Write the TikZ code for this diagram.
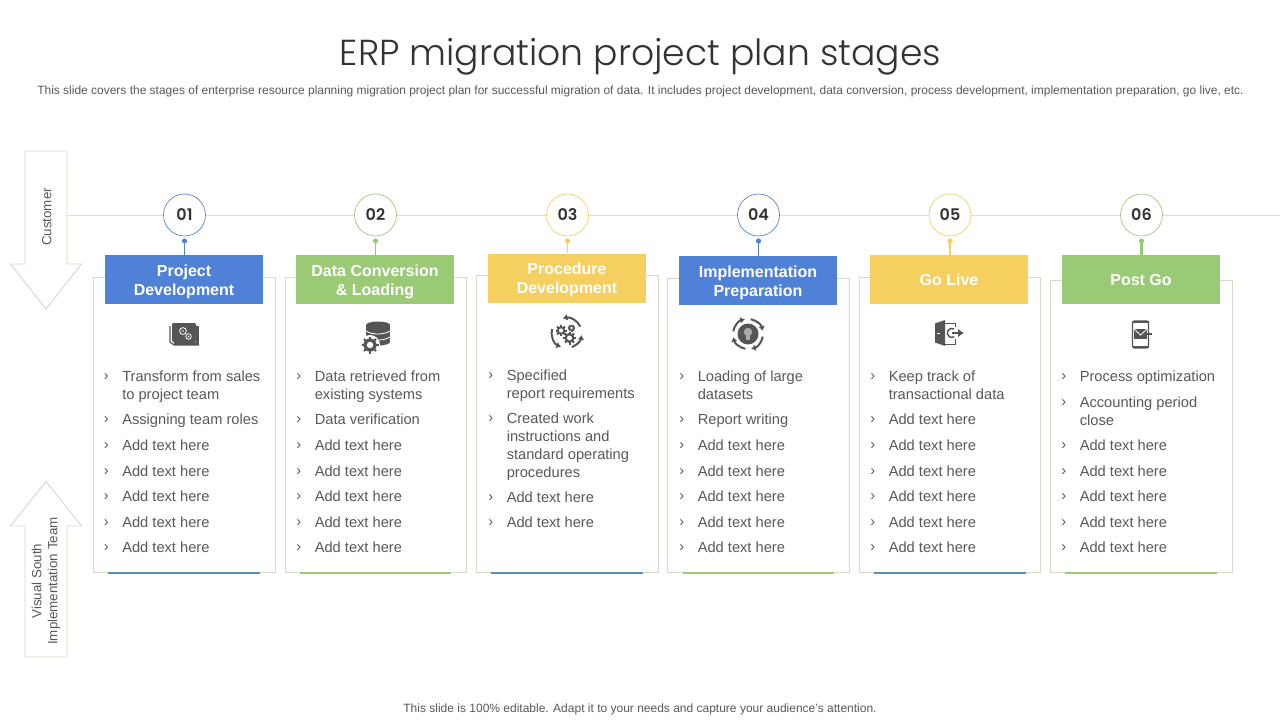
\documentclass[tikz,border=0pt]{standalone}
\usepackage{fontspec}
\setmainfont{Liberation Sans}
\newfontfamily\titlef[UprightFont=* Light]{Poppins}
\newfontfamily\numf[UprightFont=* SemiBold]{Poppins}
\usetikzlibrary{arrows.meta,calc}
\definecolor{cblue}{HTML}{4F81D6}
\definecolor{cgreen}{HTML}{9ACA76}
\definecolor{cyellow}{HTML}{F5CF5F}
\definecolor{bar}{HTML}{5F8CB0}
\definecolor{frame}{HTML}{D5DBC6}
\definecolor{rulec}{HTML}{DCDFD6}
\definecolor{txt}{HTML}{595959}
\definecolor{ico}{HTML}{555555}
\newcount\itemno
\newcommand{\litem}[4]{% chevron x, line-centre y, label, unused
  \global\advance\itemno by 1
  \node[chev] (c\the\itemno) at (#1+1.3,#2+0.9) {›};
  \node[itemtxt] (t\the\itemno) at (#1+17,#2-8) {\rule{0pt}{10pt}#3};
}
\newcommand{\addrows}[1]{\foreach \yy in {445,471,496,522,547} {\litem{#1}{\yy}{Add text here}{}}}
\newcommand{\gearic}[5]{% x y r fill hole
  \foreach \aa in {0,45,...,315}{\draw[#4,line width=1.5pt] (#1,#2)+(\aa:#3*.6) -- +(\aa:#3);}
  \fill[#4] (#1,#2) circle (#3*.78);
  \fill[#5] (#1,#2) circle (#3*.38);
}
\newcommand{\twol}{\rule{0pt}{11.7pt}}
\newcommand{\stage}[9]{% name, cx, color, num, hx1, hy, boxleft, boxtop, text
  \node[numc,draw=#3] (n#1) at (#2,215) {\numf #4};
  \coordinate (d#1) at (#2,241);
  \node[boxf,minimum width=181.5*0.75pt,minimum height={(572.5-#8)*0.75pt}] (b#1) at (#7+90.75,{(572.5+#8)/2}) {};
  \node[head,fill=#3] (h#1) at (#5+79,#6+24.5) {#9};
  \fill[#3] (d#1) circle (2.6);
  \draw[#3,line width=1pt] (d#1) -- (d#1 |- h#1.north);
}
\tikzset{
  x=0.75pt,y=-0.75pt,
  chev/.style={inner sep=0pt,font=\fontsize{11}{13.5}\selectfont,text=txt,anchor=center},
  itemtxt/.style={inner sep=0pt,anchor=north west,align=left,font=\fontsize{11}{13.5}\selectfont,text=txt},
  numc/.style={circle,fill=white,minimum size=31.5pt,inner sep=0pt,line width=0.5pt,font=\fontsize{12}{14}\selectfont,text=black!80},
  boxf/.style={draw=frame,line width=0.7pt,fill=white,inner sep=0pt},
  head/.style={minimum width=118.5pt,minimum height=36.75pt,inner sep=0pt,align=center,text=white,font=\fontsize{12}{14.25}\selectfont\bfseries},
  bigarrow/.style={draw=frame,line width=0.7pt,fill=white,line join=miter},
  sidetxt/.style={rotate=90,align=center,inner sep=0pt,text=txt,font=\fontsize{10}{12}\selectfont},
  iconarc/.style={ico,line width=1.5pt,-{Latex[length=3.5pt,width=5pt]}},
  botbar/.style={line width=1.5pt}
}
\begin{document}
\begin{tikzpicture}
\useasboundingbox (0,0) rectangle (1280,720);
\fill[white] (0,0) rectangle (1280,720);

\node[inner sep=0pt,text=black!80] (title) at (640.5,56.5) {\titlef\fontsize{27.1}{32}\selectfont ERP migration project plan stages};
\node[inner sep=0pt,text=txt] (sub) at (640.5,91.5) {\fontsize{8.98}{11}\selectfont This slide covers the stages of enterprise resource planning migration project plan for successful migration of data. It includes project development, data conversion, process development, implementation preparation, go live, etc.};
\node[inner sep=0pt,text=txt] (foot) at (640,709.5) {\fontsize{9}{11}\selectfont This slide is 100\% editable. Adapt it to your needs and capture your audience's attention.};

% timeline
\coordinate (lineend) at (1280,215);
\coordinate (linestart) at (67,215);
\draw[rulec,line width=0.6pt] (linestart) -- (lineend);

% side arrows
\draw[bigarrow] (25,151) -- (67,151) -- (67,264) -- (81.5,264) -- (46,309) -- (10.5,264) -- (25,264) -- cycle;
\node[sidetxt] (cust) at (46.7,217) {Customer};
\draw[bigarrow] (25,657) -- (67,657) -- (67,526) -- (81.5,526) -- (46,481.5) -- (10.5,526) -- (25,526) -- cycle;
\node[sidetxt] (team) at (46,581) {Visual South\\Implementation Team};

% stages
\stage{1}{184.5}{cblue}{01}{105}{255}{93.5}{277}{\twol Project\\Development}
\stage{2}{375.5}{cgreen}{02}{296}{255}{285}{277}{\twol Data Conversion\\\& Loading}
\stage{3}{567.5}{cyellow}{03}{488}{253.5}{476.5}{275.5}{\twol Procedure\\Development}
\stage{4}{758.5}{cblue}{04}{679}{256}{667.5}{278}{\twol Implementation\\Preparation}
\stage{5}{950}{cyellow}{05}{870}{255}{859}{277.5}{Go Live}
\stage{6}{1141.5}{cgreen}{06}{1062}{255}{1050.5}{280}{Post Go}
\draw[cgreen,line width=1.6pt] (d6) -- (d6 |- h6.north);

% bottom bars
\draw[bar,botbar] (108,572.5) -- (260,572.5);
\draw[cgreen,botbar] (300,572.5) -- (451,572.5);
\draw[bar,botbar] (491,572.5) -- (643,572.5);
\draw[cgreen,botbar] (683,572.5) -- (834,572.5);
\draw[bar,botbar] (874,572.5) -- (1026,572.5);
\draw[cgreen,botbar] (1065,572.5) -- (1217,572.5);

% lists
\litem{105}{376}{Transform from sales\\to project team}{}
\litem{105}{419}{Assigning team roles}{}
\addrows{105}
\litem{297.5}{376}{Data retrieved from\\existing systems}{}
\litem{297.5}{419}{Data verification}{}
\addrows{297.5}
\litem{489.5}{375}{Specified\\report requirements}{}
\litem{489.5}{418}{Created work\\instructions and\\standard operating\\procedures}{}
\litem{489.5}{497}{Add text here}{}
\litem{489.5}{522}{Add text here}{}
\litem{680.5}{376}{Loading of large\\datasets}{}
\litem{680.5}{419}{Report writing}{}
\addrows{680.5}
\litem{871.5}{376}{Keep track of\\transactional data}{}
\litem{871.5}{419}{Add text here}{}
\addrows{871.5}
\litem{1062.5}{376}{Process optimization}{}
\litem{1062.5}{402}{Accounting period\\close}{}
\addrows{1062.5}

% icon 1: stacked cards with gears
\draw[ico,line width=0.9pt] (170,326) -- (170,342) -- (174,345) -- (199,345);
\fill[ico,rounded corners=1pt] (172,323) rectangle (196,342);
\fill[ico] (196,326) rectangle (199,345);
\fill[ico] (174,342) rectangle (199,344.5);
\draw[white,line width=0.6pt] (183,331) circle (3.4);
\draw[white,line width=0.6pt] (188.5,336.5) circle (2.8);
\fill[white] (183,331) circle (0.9) (188.5,336.5) circle (0.8);

% icon 2: database and gear
\fill[ico] (366,325) rectangle (390,342);
\fill[ico] (378,325) ellipse (12 and 3.5);
\fill[ico] (378,342) ellipse (12 and 3.5);
\draw[white,line width=0.6pt] (366,331) .. controls (372,335) and (384,335) .. (390,331);
\draw[white,line width=0.6pt] (366,337) .. controls (372,341) and (384,341) .. (390,337);
\fill[white] (370,345) circle (10);
\gearic{370}{345}{8.5}{ico}{white}

% icon 3: gears in rotating arrows
\draw[iconarc] (566.7,333)+(-25:15) arc[start angle=-25,end angle=-105,radius=15];
\draw[iconarc] (566.7,333)+(195:15) arc[start angle=195,end angle=112,radius=15];
\draw[iconarc] (566.7,333)+(70:15) arc[start angle=70,end angle=8,radius=15];
\gearic{561}{330.5}{5.5}{ico}{white}
\gearic{569.5}{338}{6.5}{ico}{white}
\gearic{571.5}{328}{3.5}{ico}{white}

% icon 4: bulb in rotating arrows
\fill[ico] (748,334) circle (10.5);
\foreach \aa in {-170,-80,10,100}{
  \draw[iconarc] (748,334)+(\aa:15) arc[start angle=\aa,end angle=\aa+68,radius=15];
}
\fill[ico!50!white] (748,332) circle (4.2);
\fill[ico!50!white] (745.8,335) rectangle (750.2,339.5);

% icon 5: door with exit arrow
\fill[ico] (935,323.5) -- (945,320) -- (945,346) -- (935,342.5) -- cycle;
\fill[white] (937,332.5) rectangle (939.5,333.8);
\draw[ico,line width=0.7pt] (945,323) -- (955,323) -- (955,327);
\draw[ico,line width=0.7pt] (945,344) -- (955,344) -- (955,339);
\draw[ico,line width=1.1pt] (954,329) arc[start angle=-60,end angle=-300,radius=4.5];
\draw[ico,line width=1.7pt,-{Latex[length=4.5pt,width=6.5pt]}] (952,333) -- (964,333);

% icon 6: phone with envelope
\draw[ico,line width=1pt,rounded corners=1.5pt] (1132.5,321) rectangle (1148.5,348);
\fill[ico] (1132.5,321) rectangle (1148.5,323);
\fill[ico] (1132.5,346) rectangle (1148.5,348);
\fill[ico] (1134,329) rectangle (1147,339);
\draw[white,line width=0.6pt] (1134,329) -- (1140.5,335) -- (1147,329);
\draw[ico,line width=1.1pt] (1147,334) -- (1151.5,334);
\end{tikzpicture}
\end{document}
